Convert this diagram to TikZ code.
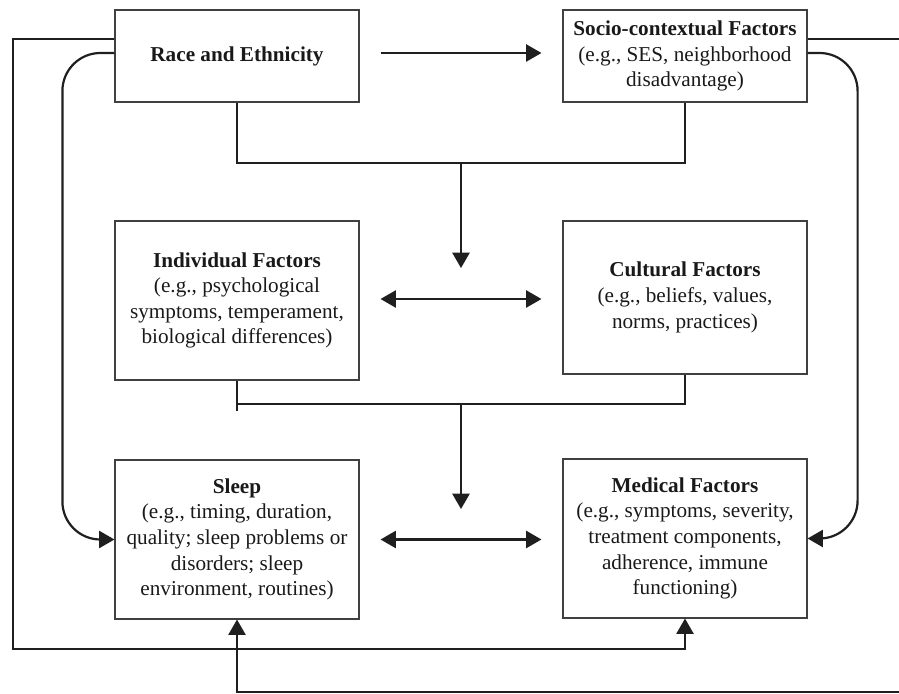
\documentclass[tikz,border=0pt]{standalone}
\usepackage{fontspec}
\setmainfont{Liberation Serif}
\usepackage{tikz}
\usetikzlibrary{positioning,arrows}
\tikzset{
factor/.style={draw=black!75, line width=0.6pt, align=center, minimum width=122pt, text=black!90, font=\fontsize{10.6}{12.8}\selectfont},
link/.style={draw=black!88, line width=1.1pt},
arr/.style={-triangle 60},
arrboth/.style={triangle 60-triangle 60},
gap/.style={shorten <=10.5pt, shorten >=10.5pt}
}

\begin{document}
\begin{tikzpicture}[x=0.5pt,y=-0.5pt]
\useasboundingbox (0,0) rectangle (899,694);

\node[factor, minimum height=46pt] (race) at (237,56) {\textbf{Race and Ethnicity}};
\node[factor, minimum height=46pt] (socio) at (685,56) {\textbf{Socio-contextual Factors}\\(e.g., SES, neighborhood\\disadvantage)};

\node[factor, minimum height=79.5pt] (indiv) at (237,300.5) {\textbf{Individual Factors}\\(e.g., psychological\\symptoms, temperament,\\biological differences)};
\node[factor, minimum height=76.5pt] (cult) at (685,297.5) {\textbf{Cultural Factors}\\(e.g., beliefs, values,\\norms, practices)};

\node[factor, minimum height=79.5pt] (sleep) at (237,539.5) {\textbf{Sleep}\\(e.g., timing, duration,\\quality; sleep problems or\\disorders; sleep\\environment, routines)};
\node[factor, minimum height=79.5pt] (med) at (685,538.5) {\textbf{Medical Factors}\\(e.g., symptoms, severity,\\treatment components,\\adherence, immune\\functioning)};

\coordinate (top join) at (461,163);
\coordinate (top end) at (461,268);
\coordinate (mid join) at (461,404);
\coordinate (mid end) at (461,509);
\coordinate (outer left) at (13,649);
\coordinate (edge top) at (910,39);
\coordinate (edge bottom) at (910,692);

% top row
\draw[link,arr,gap] ([yshift=1.5pt]race.east) -- ([yshift=1.5pt]socio.west);
\draw[link] (race.south) |- (top join) -| (socio.south);
\draw[link,arr] (top join) -- (top end);

% middle row
\draw[link,arrboth,gap] ([yshift=.75pt]indiv.east) -- ([yshift=.75pt]indiv.east -| cult.west);
\draw[link] (indiv.south) -- ++(0,30);
\draw[link] (indiv.south |- mid join) -| (cult.south);
\draw[link,arr] (mid join) -- (mid end);

% bottom row
\draw[link,arrboth,gap] (sleep.east) -- (sleep.east -| med.west);

% side loops
\draw[link,arr,rounded corners=19pt] ([yshift=1.5pt]race.west) -- ++(-52,0) |- (sleep.west);
\draw[link,arr,rounded corners=19pt] ([yshift=1.5pt]socio.east) -- ++(50,0) |- (med.east);
\draw[link,arr] ([yshift=8.5pt]race.west) -| (outer left) -| (med.south);
\draw[link] ([yshift=8.5pt]socio.east) -- (edge top);
\draw[link,arr] (edge bottom) -| (sleep.south);
\end{tikzpicture}
\end{document}
